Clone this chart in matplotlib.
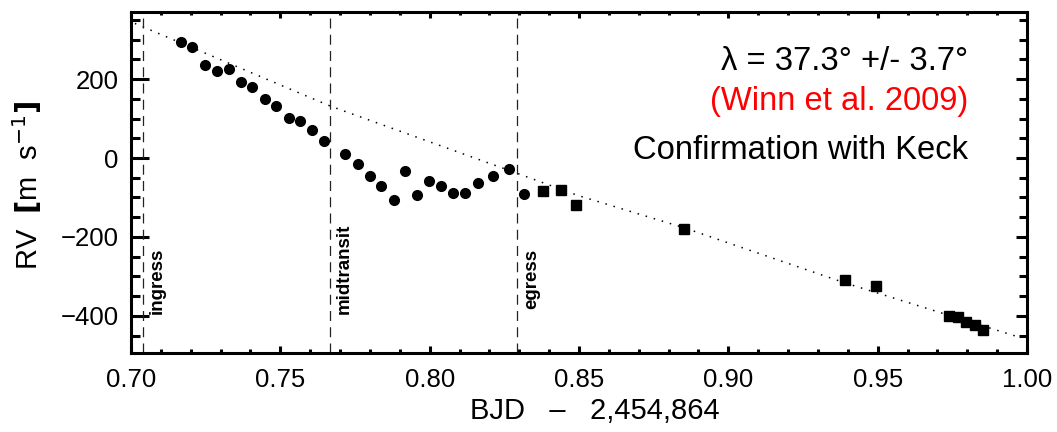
import matplotlib
matplotlib.use("Agg")
import matplotlib.pyplot as plt
from matplotlib.ticker import MultipleLocator

plt.rcParams['font.family'] = ['Liberation Sans', 'DejaVu Sans']

# in-transit RVs (circles)
t_circ = [0.7166, 0.7204, 0.7247, 0.7287, 0.7327, 0.7367, 0.7406, 0.7449, 0.7485,
          0.7529, 0.7567, 0.7605, 0.7647, 0.7717, 0.7759, 0.7799, 0.7838, 0.7880,
          0.7916, 0.7958, 0.7997, 0.8038, 0.8078, 0.8117, 0.8162, 0.8213, 0.8264,
          0.8317]
rv_circ = [293, 282, 235, 220, 226, 192, 181, 150, 132,
           102, 95, 70, 42, 11, -15, -46, -71, -107,
           -34, -93, -58, -72, -89, -89, -63, -46, -29,
           -92]

# post-transit RVs (squares)
t_sq = [0.8379, 0.8441, 0.8491, 0.8853, 0.9389, 0.9495, 0.9738, 0.9768, 0.9795, 0.9825, 0.9852]
rv_sq = [-83, -81, -119, -180, -310, -323, -400, -403, -415, -424, -436]

# orbital model
t_model = [0.7013, 0.7666, 0.8294, 0.8493, 0.8853, 0.9389, 0.9970]
rv_model = [341, 132, -39, -94, -177, -316, -453]

# transit markers
t_events = [0.7041, 0.7667, 0.8292]
event_names = ["ingress", "midtransit", "egress"]
event_label_y = [-395, -395, -383]

fig = plt.figure(figsize=(10.57, 4.32), dpi=100)
ax = fig.add_axes([131 / 1057, 79 / 432, 896 / 1057, 341 / 432])

ax.plot(t_model, rv_model, color='black', lw=1.1, linestyle=(0, (1, 4.5)))
for t in t_events:
    ax.axvline(t, color='#222222', lw=0.9, dashes=(8, 5))
ax.plot(t_circ, rv_circ, 'o', color='black', ms=7)
ax.plot(t_sq, rv_sq, 's', color='black', ms=6.8)

for t, name, y in zip(t_events, event_names, event_label_y):
    ax.text(t + 0.0020, y, name, rotation=90, ha='left', va='bottom',
            fontsize=13.5, fontweight='bold')

ax.set_xlim(0.70, 1.00)
ax.set_ylim(-494, 370)
ax.xaxis.set_major_locator(MultipleLocator(0.05))
ax.xaxis.set_minor_locator(MultipleLocator(0.01))
ax.yaxis.set_major_locator(MultipleLocator(200))
ax.yaxis.set_minor_locator(MultipleLocator(50))
ax.xaxis.set_major_formatter(plt.FormatStrFormatter('%.2f'))

for s in ax.spines.values():
    s.set_linewidth(2.2)
ax.tick_params(axis='x', which='major', direction='in', length=5, width=2.2,
               labelsize=18.5, pad=11)
ax.tick_params(axis='x', which='minor', direction='in', length=3, width=2.2)
ax.tick_params(axis='y', which='major', direction='in', length=13, width=2.2,
               labelsize=18.5, pad=9)
ax.tick_params(axis='y', which='minor', direction='in', length=6.5, width=2.2)

top = ax.secondary_xaxis('top')
top.xaxis.set_major_locator(MultipleLocator(0.05))
top.xaxis.set_minor_locator(MultipleLocator(0.01))
top.tick_params(which='major', direction='in', length=4, width=2.2, labeltop=False)
top.tick_params(which='minor', direction='in', length=2.5, width=2.2)
right = ax.secondary_yaxis('right')
right.yaxis.set_major_locator(MultipleLocator(200))
right.yaxis.set_minor_locator(MultipleLocator(50))
right.tick_params(which='major', direction='in', length=8, width=2.2, labelright=False)
right.tick_params(which='minor', direction='in', length=6, width=2.2)

ax.set_xlabel("BJD   \u2013   2,454,864", fontsize=21)
ax.xaxis.set_label_coords(0.518, -0.128)
ax.set_ylabel("RV  $\\mathbf{[}$m  s$^{-1}$$\\mathbf{]}$", fontsize=21)
ax.yaxis.set_label_coords(-0.097, 0.49)

ax.text(0.934, 0.830, "\u03bb = 37.3\u00b0 +/- 3.7\u00b0", transform=ax.transAxes,
        ha='right', va='baseline', fontsize=23.6)
ax.text(0.934, 0.7126, "(Winn et al. 2009)", transform=ax.transAxes,
        ha='right', va='baseline', fontsize=23.6, color='red')
ax.text(0.934, 0.569, "Confirmation with Keck", transform=ax.transAxes,
        ha='right', va='baseline', fontsize=23.6)

fig.savefig("out.png", dpi=100)
